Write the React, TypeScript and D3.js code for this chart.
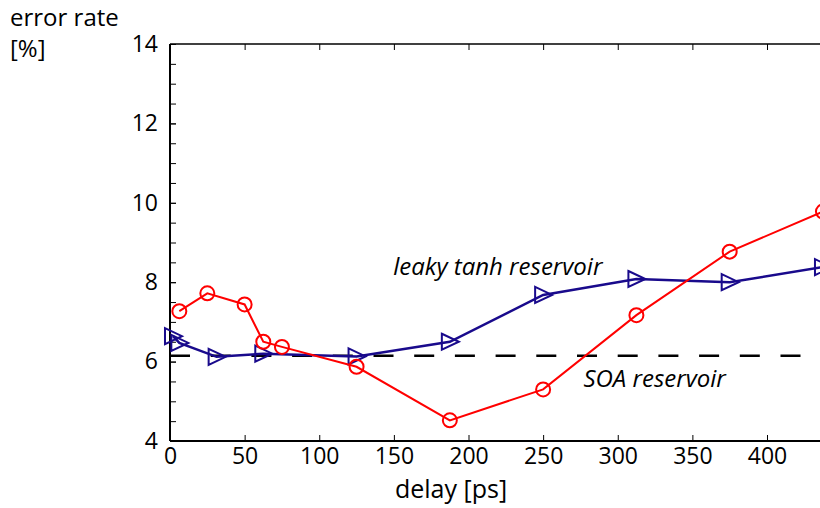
import React, { useEffect, useRef } from "react";
import * as d3 from "d3";

// SOA reservoir (red circles)
const soaDelay = [6.25, 25, 50, 62.5, 75, 125, 187.5, 250, 312.5, 375, 437.5];
const soaError = [7.27, 7.72, 7.44, 6.5, 6.37, 5.87, 4.52, 5.3, 7.17, 8.77, 9.78];

// leaky tanh reservoir (blue triangles)
const tanhDelay = [2, 6.25, 31.25, 62.5, 125, 187.5, 250, 312.5, 375, 437.5];
const tanhError = [6.64, 6.47, 6.12, 6.2, 6.13, 6.5, 7.68, 8.08, 8.0, 8.38];

// dashed reference level
const refLevel = 6.15;
const refRange = [0, 437.5];

const xTicks = [0, 50, 100, 150, 200, 250, 300, 350, 400];
const yTicks = [4, 6, 8, 10, 12, 14];
const yMinorTicks = d3.range(4, 14.01, 0.5);

const labels = [
  { text: "leaky tanh reservoir", delay: 149.5, error: 8.18 },
  { text: "SOA reservoir", delay: 277, error: 5.36 },
];

const FONT = "'Open Sans', sans-serif";

const App = () => {
  const ref = useRef<SVGSVGElement>(null);

  useEffect(() => {
    document.body.style.margin = "0";
    draw();
  }, []);

  const draw = () => {
    const width = 820;
    const height = 508;
    const svg = d3.select(ref.current).attr("width", width).attr("height", height);
    svg.selectAll("*").remove();

    const x = d3.scaleLinear().domain([0, 400]).range([170, 767]);
    const y = d3.scaleLinear().domain([4, 14]).range([441, 44]);
    const xEnd = width;

    // frame (right side is cut off)
    svg.append("line").attr("x1", x(0)).attr("x2", xEnd).attr("y1", y(14)).attr("y2", y(14))
      .attr("stroke", "#000").attr("stroke-width", 1.5);

    // bottom axis
    const gx = svg.append("g").attr("transform", `translate(0,${y(4)})`)
      .call(d3.axisBottom(x).tickValues(xTicks).tickSize(-6).tickPadding(7).tickSizeOuter(0));
    gx.select(".domain").remove();
    gx.selectAll("text").attr("font-family", FONT).attr("font-size", 23).attr("fill", "#000");
    gx.selectAll("line").attr("stroke-width", 1);

    // top axis ticks
    const gt = svg.append("g").attr("transform", `translate(0,${y(14)})`)
      .call(d3.axisTop(x).tickValues(xTicks).tickSize(-6).tickFormat(() => "").tickSizeOuter(0));
    gt.select(".domain").remove();
    gt.selectAll("line").attr("stroke-width", 1);

    // left axis minor ticks
    const gm = svg.append("g").attr("transform", `translate(${x(0)},0)`)
      .call(d3.axisLeft(y).tickValues(yMinorTicks).tickSize(-6).tickFormat(() => "").tickSizeOuter(0));
    gm.select(".domain").remove();
    gm.selectAll("line").attr("stroke-width", 1);

    // left axis labels
    const gy = svg.append("g").attr("transform", `translate(${x(0)},0)`)
      .call(d3.axisLeft(y).tickValues(yTicks).tickSize(-6).tickPadding(12).tickSizeOuter(0));
    gy.select(".domain").remove();
    gy.selectAll("text").attr("font-family", FONT).attr("font-size", 23).attr("fill", "#000");
    gy.selectAll("line").attr("stroke-width", 1);

    svg.append("line").attr("x1", x(0)).attr("x2", xEnd).attr("y1", y(4)).attr("y2", y(4))
      .attr("stroke", "#000").attr("stroke-width", 2);
    svg.append("line").attr("x1", x(0)).attr("x2", x(0)).attr("y1", y(4)).attr("y2", y(14))
      .attr("stroke", "#000").attr("stroke-width", 2);

    // dashed reference line
    svg.append("line")
      .attr("x1", x(refRange[0])).attr("x2", x(refRange[1]))
      .attr("y1", y(refLevel)).attr("y2", y(refLevel))
      .attr("stroke", "#000").attr("stroke-width", 2.5)
      .attr("stroke-dasharray", "20,20.7");

    const line = d3.line<[number, number]>().x((d) => x(d[0])).y((d) => y(d[1]));

    // blue series
    const blue = "#190a8c";
    const tanhData = tanhDelay.map((d, i) => [d, tanhError[i]] as [number, number]);
    svg.append("path").datum(tanhData).attr("fill", "none").attr("stroke", blue)
      .attr("stroke-width", 2.5).attr("d", line);
    svg.selectAll(".tri").data(tanhData).enter().append("path")
      .attr("transform", (d) => `translate(${x(d[0])},${y(d[1])})`)
      .attr("d", "M-8,-8L9,0L-8,8Z")
      .attr("fill", "none").attr("stroke", blue).attr("stroke-width", 2);

    // red series
    const red = "#ff0000";
    const soaData = soaDelay.map((d, i) => [d, soaError[i]] as [number, number]);
    svg.append("path").datum(soaData).attr("fill", "none").attr("stroke", red)
      .attr("stroke-width", 2).attr("d", line);
    svg.selectAll(".circ").data(soaData).enter().append("circle")
      .attr("cx", (d) => x(d[0])).attr("cy", (d) => y(d[1])).attr("r", 7)
      .attr("fill", "none").attr("stroke", red).attr("stroke-width", 2);

    // series labels
    svg.selectAll(".lbl").data(labels).enter().append("text")
      .attr("x", (d) => x(d.delay)).attr("y", (d) => y(d.error))
      .attr("font-family", FONT).attr("font-style", "italic").attr("font-size", 24)
      .attr("fill", "#000").text((d) => d.text);

    // axis titles
    svg.append("text").attr("x", 10).attr("y", 26).attr("font-family", FONT)
      .attr("font-size", 24).text("error rate");
    svg.append("text").attr("x", 10).attr("y", 57).attr("font-family", FONT)
      .attr("font-size", 24).text("[%]");
    svg.append("text").attr("x", 451).attr("y", 498).attr("text-anchor", "middle")
      .attr("font-family", FONT).attr("font-size", 25).text("delay [ps]");
  };

  return <svg ref={ref} style={{ display: "block" }}></svg>;
};

export default App;
